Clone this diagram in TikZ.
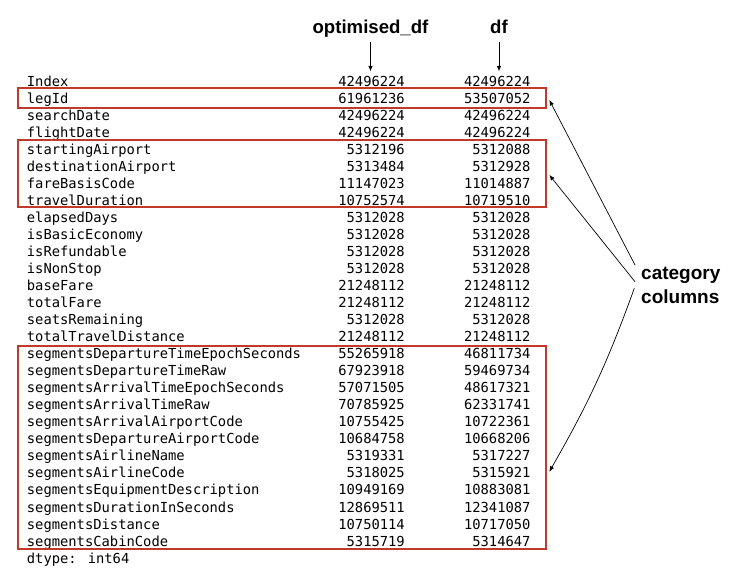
\documentclass[tikz,border=0pt]{standalone}
\usepackage{fontspec}
\newfontfamily\monofont{DejaVu Sans Mono}
\newfontfamily\headfont{Liberation Sans}
\usetikzlibrary{arrows.meta}
\definecolor{boxred}{RGB}{192,57,43}
\tikzset{
  cell/.style={inner sep=0pt, font=\monofont\fontsize{13.8}{16}\selectfont},
  head/.style={inner sep=0pt, font=\headfont\bfseries\fontsize{18.6}{22}\selectfont, text height=13.5pt, text depth=4pt},
  catlabel/.style={inner sep=0pt, align=left, font=\headfont\bfseries\fontsize{19}{23.3}\selectfont},
  redbox/.style={draw=boxred, line width=2pt, inner sep=0pt, minimum width=527.4pt},
  ptr/.style={-{Latex[length=5.5pt,width=4.5pt]}, line width=0.7pt},
}
\begin{document}
\begin{tikzpicture}[x=1pt,y=-1pt]
\useasboundingbox (0,0) rectangle (739,578);
\foreach \name/\opt/\full [count=\i from 0] in {
  Index/42496224/42496224, legId/61961236/53507052,
  searchDate/42496224/42496224, flightDate/42496224/42496224,
  startingAirport/5312196/5312088, destinationAirport/5313484/5312928,
  fareBasisCode/11147023/11014887, travelDuration/10752574/10719510,
  elapsedDays/5312028/5312028, isBasicEconomy/5312028/5312028,
  isRefundable/5312028/5312028, isNonStop/5312028/5312028,
  baseFare/21248112/21248112, totalFare/21248112/21248112,
  seatsRemaining/5312028/5312028, totalTravelDistance/21248112/21248112,
  segmentsDepartureTimeEpochSeconds/55265918/46811734,
  segmentsDepartureTimeRaw/67923918/59469734,
  segmentsArrivalTimeEpochSeconds/57071505/48617321,
  segmentsArrivalTimeRaw/70785925/62331741,
  segmentsArrivalAirportCode/10755425/10722361,
  segmentsDepartureAirportCode/10684758/10668206,
  segmentsAirlineName/5319331/5317227,
  segmentsAirlineCode/5318025/5315921,
  segmentsEquipmentDescription/10949169/10883081,
  segmentsDurationInSeconds/12869511/12341087,
  segmentsDistance/10750114/10717050,
  segmentsCabinCode/5315719/5314647}{
  \node[cell, anchor=base west] (col\i) at (26.7,{86.5+17.02*\i}) {\name};
  \node[cell, anchor=base east] (opt\i) at (405,{86.5+17.02*\i}) {\opt};
  \node[cell, anchor=base east] (df\i) at (530.7,{86.5+17.02*\i}) {\full};
}
\node[cell, anchor=base west] (dtype) at (26.7,563.1) {dtype: int64};
\node[head, anchor=base] (opthead) at (370.5,34) {optimised\_df};
\node[head, anchor=base] (dfhead) at (499,34) {df};
\draw[ptr, shorten <=3.7pt, shorten >=4.7pt] (opthead.south) -- (opthead.south |- opt0.north);
\draw[ptr, shorten <=3.7pt, shorten >=4.7pt] (dfhead.south) -- (dfhead.south |- df0.north);
\node[redbox, minimum height=19.4pt] (box1) at (282,98) {};
\node[redbox, minimum height=67.3pt] (box2) at (282,173.65) {};
\node[redbox, minimum height=203pt] (box3) at (282,447.5) {};
\node[catlabel, anchor=west] (catcol) at (641,285.3) {category\\columns};
\draw[ptr] ([shift={(-6,-20.3)}]catcol.west) -- ([shift={(2.6,2)}]box1.east);
\draw[ptr] ([shift={(-6,-3.6)}]catcol.west) -- ([shift={(2.6,1.3)}]box2.east);
\draw[ptr] ([shift={(-6.7,3)}]catcol.west) to[bend left=5] ([shift={(2.6,24.2)}]box3.east);
\end{tikzpicture}
\end{document}
